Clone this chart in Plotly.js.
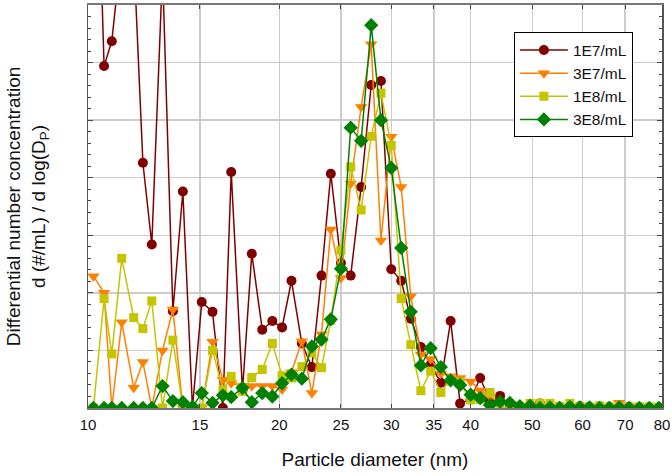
<!DOCTYPE html>
<html>
<head>
<meta charset="utf-8">
<script src="https://cdn.plot.ly/plotly-3.0.1.min.js"></script>
<style>
html,body{margin:0;padding:0;background:#fff;}
#chart{width:672px;height:476px;}
</style>
</head>
<body>
<div id="chart"></div>
<script>
// Particle diameter (nm), SMPS channel midpoints
const diameter = [10.2, 10.6, 10.9, 11.3, 11.8, 12.2, 12.6, 13.1, 13.6, 14.1,
  14.6, 15.1, 15.7, 16.3, 16.8, 17.5, 18.1, 18.8, 19.5, 20.2,
  20.9, 21.7, 22.5, 23.3, 24.1, 25.0, 25.9, 26.9, 27.9, 28.9,
  30.0, 31.1, 32.2, 33.4, 34.6, 35.9, 37.2, 38.5, 40.0, 41.4,
  42.9, 44.5, 46.1, 47.8, 49.6, 51.4, 53.3, 55.2, 57.3, 59.4,
  61.5, 63.8, 66.1, 68.5, 71.0, 73.7, 76.4, 79.1];

const seriesNames = ["1E7/mL", "3E7/mL", "1E8/mL", "3E8/mL"];

const conc1E7 = [12.0, 5.94, 6.37, 8.0, 7.9, 4.26, 2.84, 7.6, 1.68, 3.76,
  0.0, 1.84, 1.67, 0.0, 4.1, 0.3, 2.68, 1.36, 1.51, 1.40,
  2.21, 1.12, 0.71, 2.30, 4.07, 2.52, 2.30, 3.84, 5.61, 5.68,
  2.41, 2.21, 1.55, 1.06, 0.75, 0.44, 1.51, 0.08, 0.15, 0.52,
  0.12, 0.21, 0.05, 0.03, 0.04, 0.08, 0.03, 0.02, 0.0, 0.03,
  0.02, 0.01, 0.02, 0.01, 0.02, 0.01, 0.01, 0.01];

const conc3E7 = [2.29, 2.0, 0.0, 1.49, 0.35, 0.8, 0.0, 1.0, 1.71, 0.0,
  0.0, 0.0, 1.15, 0.49, 0.43, 0.38, 0.38, 0.38, 0.38, 0.32,
  0.62, 1.16, 0.26, 1.28, 3.1, 2.26, 3.9, 5.23, 6.32, 2.91,
  4.71, 3.84, 1.94, 0.93, 0.85, 0.6, 0.55, 0.52, 0.46, 0.3,
  0.2, 0.08, 0.05, 0.03, 0.02, 0.04, 0.02, 0.03, 0.02, 0.01,
  0.03, 0.02, 0.01, 0.09, 0.03, 0.02, 0.01, 0.02];

const conc1E8 = [0.0, 1.9, 0.94, 2.6, 1.57, 1.38, 1.86, 0.0, 1.18, 0.0,
  0.0, 0.0, 1.0, 0.32, 0.55, 0.29, 0.53, 0.67, 1.12, 0.56,
  0.52, 0.72, 0.96, 0.7, 1.52, 2.74, 4.19, 3.44, 4.72, 5.47,
  4.56, 1.9, 1.1, 0.3, 0.64, 0.27, 0.5, 0.45, 0.14, 0.15,
  0.27, 0.0, 0.0, 0.02, 0.08, 0.08, 0.08, 0.03, 0.08, 0.03,
  0.02, 0.04, 0.02, 0.03, 0.02, 0.02, 0.02, 0.02];

const conc3E8 = [0.0, 0.0, 0.0, 0.0, 0.0, 0.0, 0.0, 0.38, 0.12, 0.1,
  0.02, 0.26, 0.09, 0.22, 0.19, 0.35, 0.1, 0.26, 0.2, 0.43,
  0.58, 0.51, 1.07, 1.19, 1.54, 2.42, 4.87, 4.64, 6.65, 5.0,
  4.17, 2.78, 1.67, 0.74, 1.04, 0.71, 0.48, 0.4, 0.23, 0.17,
  0.05, 0.11, 0.09, 0.03, 0.04, 0.0, 0.01, 0.0, 0.02, 0.01,
  0.01, 0.0, 0.0, 0.01, 0.0, 0.0, 0.0, 0.0];

const xTickVals = [10, 15, 20, 25, 30, 35, 40, 50, 60, 70, 80];
const xTickText = ["10", "15", "20", "25", "30", "35", "40", "50", "60", "70", "80"];

const FONT = "Liberation Sans, Arial, Helvetica, sans-serif";

function mk(name, y, color, symbol, size) {
  return {
    x: diameter, y: y, name: name, type: "scatter", mode: "lines+markers",
    line: {color: color, width: 1.5},
    marker: {color: color, symbol: symbol, size: size, line: {width: 0}}
  };
}

const data = [
  mk(seriesNames[0], conc1E7, "#800000", "circle", 10),
  mk(seriesNames[1], conc3E7, "#ff8000", "triangle-down", 11),
  mk(seriesNames[2], conc1E8, "#c4c400", "square", 9),
  mk(seriesNames[3], conc3E8, "#008000", "diamond", 11)
];

const layout = {
  width: 672, height: 476,
  margin: {l: 88, r: 10, t: 5, b: 68},
  paper_bgcolor: "#fff", plot_bgcolor: "#fff",
  font: {family: FONT, color: "#111", size: 15},
  showlegend: true,
  legend: {
    x: 0.742, y: 0.932, xanchor: "left", yanchor: "top",
    bgcolor: "#fff", bordercolor: "#000", borderwidth: 1,
    font: {family: FONT, size: 15.5, color: "#111"},
    itemwidth: 48
  },
  xaxis: {
    type: "log",
    range: [1, Math.log10(80)],
    tickvals: xTickVals, ticktext: xTickText,
    ticks: "inside", ticklen: 4, tickcolor: "#444",
    ticklabelstandoff: 2,
    showgrid: true, gridcolor: "#cccccc", gridwidth: 1.5,
    showline: true, linecolor: "#777", linewidth: 2, mirror: "ticks",
    zeroline: false,
    tickfont: {family: FONT, size: 15, color: "#111"},
    title: {text: "Particle diameter (nm)", font: {family: FONT, size: 19, color: "#111"}, standoff: 21}
  },
  yaxis: {
    range: [0, 7], dtick: 1,
    showticklabels: false,
    ticks: "inside", ticklen: 5, tickcolor: "#444",
    minor: {dtick: 0.2, ticks: "inside", ticklen: 3, tickcolor: "#444", showgrid: false},
    showgrid: true, gridcolor: "#cccccc", gridwidth: 1.5,
    showline: true, linecolor: "#555", linewidth: 1.5, mirror: "ticks",
    zeroline: false,
    title: {text: "Differential number concentration<br>d (#/mL) / d log(D<sub>P</sub>)", font: {family: FONT, size: 19, color: "#111"}, standoff: 36}
  }
};

Plotly.newPlot("chart", data, layout, {displayModeBar: false, staticPlot: true});
</script>
</body>
</html>
